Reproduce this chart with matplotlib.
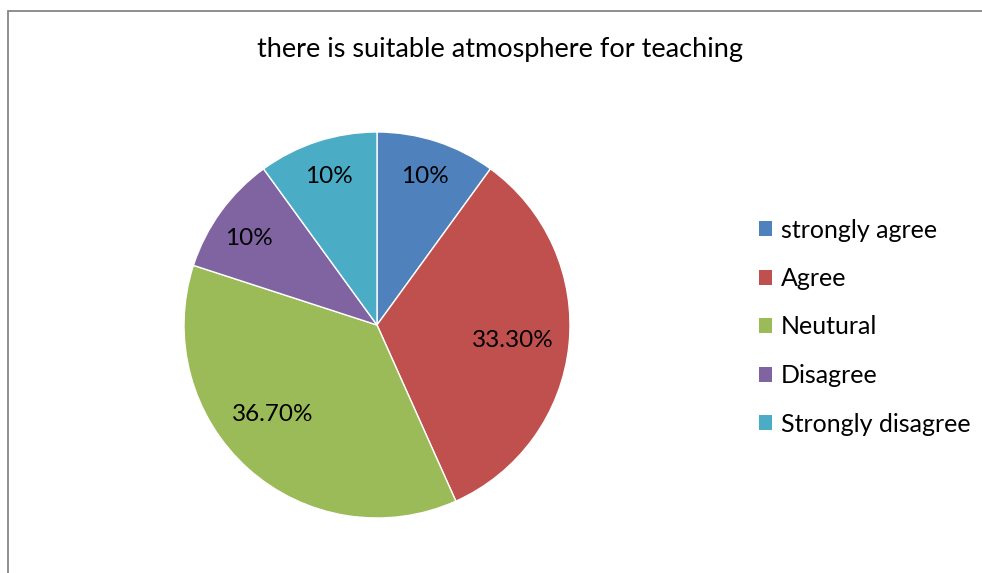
import matplotlib
matplotlib.use("Agg")
import matplotlib.pyplot as plt
from matplotlib.patches import Rectangle, Patch
import numpy as np

categories = ["strongly agree", "Agree", "Neutural", "Disagree", "Strongly disagree"]
values = [10, 33.3, 36.7, 10, 10]
labels = ["10%", "33.30%", "36.70%", "10%", "10%"]
colors = ["#4F81BD", "#C0504D", "#9BBB59", "#8064A2", "#4BACC6"]
label_dist = [0.81, 0.71, 0.71, 0.80, 0.81]
label_angle_shift = [0, -0.7, -7.5, 2, 0]
title = "there is suitable atmosphere for teaching"

plt.rcParams['font.family'] = ['Lato', 'DejaVu Sans']

W, H = 982, 573
fig = plt.figure(figsize=(W / 100, H / 100), dpi=100)

# frame
fig.patches.append(Rectangle((8 / W, -0.1), 1.2, (H - 11) / H + 0.1, transform=fig.transFigure,
                             fill=False, edgecolor="#868686", linewidth=1.3))

cx, cy, r = 377, 325, 193
ax = fig.add_axes([(cx - r) / W, (H - cy - r) / H, 2 * r / W, 2 * r / H])
wedges, _ = ax.pie(values, colors=colors, startangle=90, counterclock=False,
                   wedgeprops=dict(edgecolor="white", linewidth=1.0), radius=1.0)
ax.set_xlim(-1, 1)
ax.set_ylim(-1, 1)
ax.set_aspect("equal")
ax.axis("off")

for w, lab, d, s in zip(wedges, labels, label_dist, label_angle_shift):
    ang = np.deg2rad((w.theta1 + w.theta2) / 2 + s)
    ax.text(d * np.cos(ang), d * np.sin(ang), lab, ha="center", va="center",
            fontsize=17.5, color="black")

fig.text(500 / W, 1 - 50 / H, title, ha="center", va="center", fontsize=19.5)

handles = [Patch(facecolor=c, edgecolor="none") for c in colors]
leg = fig.legend(handles, categories, loc="center left", bbox_to_anchor=(746 / W, 1 - 327 / H),
                 frameon=False, fontsize=18, labelspacing=1.02, handlelength=0.55,
                 handleheight=0.55, handletextpad=0.35, borderpad=0)

fig.savefig("out.png", dpi=100)
